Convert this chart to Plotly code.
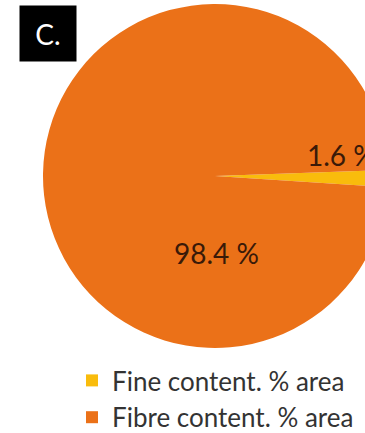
import plotly.graph_objects as go

# Area fractions of the sample
labels = ["Fine content. % area", "Fibre content. % area"]
values = [1.6, 98.4]
colors = ["#F9BC0C", "#EB7118"]

W, H = 400, 450

# pie centre and radius in pixels from the top-left corner
cx, cy, r = 215, 176, 172

fig = go.Figure(
    go.Pie(
        labels=labels,
        values=values,
        sort=False,
        direction="clockwise",
        rotation=88,
        marker=dict(colors=colors, line=dict(width=0)),
        textinfo="none",
        hoverinfo="label+percent",
        domain=dict(
            x=[(cx - r) / W, (cx + r) / W],
            y=[1 - (cy + r) / H, 1 - (cy - r) / H],
        ),
    )
)

label_font = dict(family="Lato, 'Open Sans', sans-serif", size=28, color="#3a1a08")

# Value labels on the slices
fig.add_annotation(
    x=216 / W, y=1 - 253 / H, xref="paper", yref="paper",
    text=f"{values[1]:.1f} %", showarrow=False, font=label_font,
)
fig.add_annotation(
    x=305 / W, y=1 - 155 / H, xref="paper", yref="paper", xanchor="left",
    text=f"{values[0]:.1f} %", showarrow=False, font=label_font,
)

# Panel tag
fig.add_annotation(
    x=19 / W, y=1 - 5 / H, xref="paper", yref="paper",
    xanchor="left", yanchor="top",
    text="C.", showarrow=False, bgcolor="black",
    width=52, height=51, borderpad=2,
    font=dict(family="Lato, sans-serif", size=28, color="white"),
)

fig.update_layout(
    width=W,
    height=H,
    margin=dict(l=0, r=0, t=0, b=0),
    paper_bgcolor="white",
    plot_bgcolor="white",
    showlegend=True,
    legend=dict(
        x=72 / W, y=1 - 357 / H, xanchor="left", yanchor="top",
        font=dict(family="Lato, 'Open Sans', sans-serif", size=26, color="#333333"),
        bgcolor="rgba(0,0,0,0)",
        traceorder="normal",
    ),
)

fig.write_html("out.html")
